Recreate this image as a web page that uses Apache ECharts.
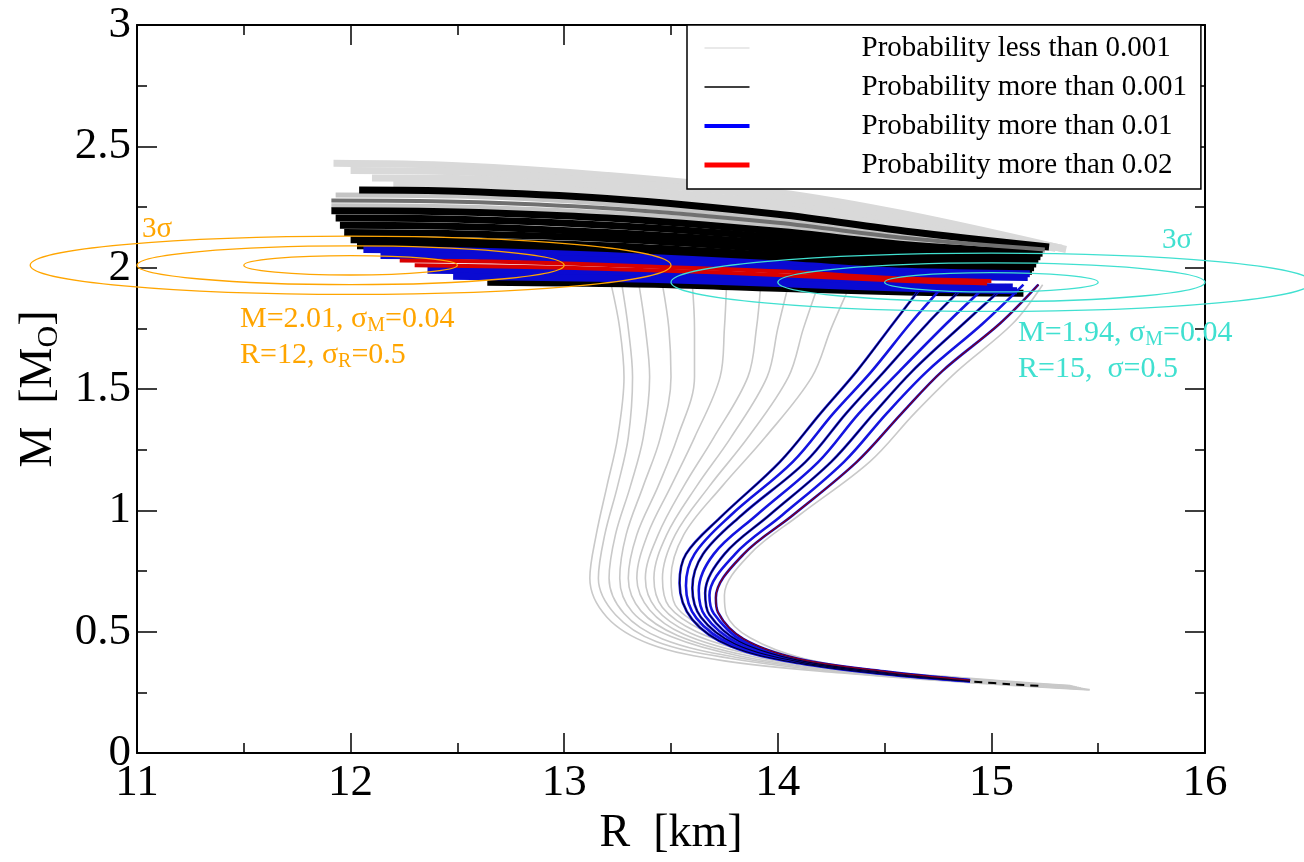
<!DOCTYPE html>
<html><head><meta charset="utf-8">
<script src="https://cdn.jsdelivr.net/npm/echarts@6/dist/echarts.min.js"></script>
<style>html,body{margin:0;padding:0;background:#fff}#c{width:1304px;height:862px}</style>
</head><body><div id="c"></div>
<script>
// ---------------- DATA ([R km, M Msun]) ----------------
const xRange = [11, 16];
const yRange = [0, 3];

// lower-branch curves, probability < 0.001 (light grey)
const grayLowerCurves = [
  [[15.46,0.26],[14.9,0.29],[14.3,0.33],[13.75,0.38],[13.4,0.45],[13.2,0.56],[13.12,0.72],[13.15,0.9],[13.2,1.1],[13.25,1.3],[13.28,1.55],[13.26,1.75],[13.22,1.93]],
  [[15.45,0.262],[14.9,0.292],[14.3,0.333],[13.78,0.39],[13.43,0.46],[13.24,0.57],[13.16,0.72],[13.19,0.9],[13.25,1.1],[13.3,1.3],[13.32,1.55],[13.3,1.75],[13.27,1.93]],
  [[15.44,0.264],[14.9,0.294],[14.3,0.336],[13.8,0.395],[13.46,0.47],[13.28,0.575],[13.21,0.72],[13.24,0.9],[13.31,1.1],[13.37,1.3],[13.4,1.55],[13.38,1.75],[13.35,1.93]],
  [[15.43,0.266],[14.9,0.296],[14.3,0.339],[13.82,0.4],[13.5,0.48],[13.32,0.58],[13.26,0.72],[13.29,0.9],[13.37,1.1],[13.45,1.3],[13.5,1.55],[13.49,1.75],[13.46,1.93]],
  [[15.42,0.268],[14.9,0.298],[14.3,0.342],[13.84,0.405],[13.53,0.485],[13.36,0.585],[13.3,0.72],[13.34,0.9],[13.44,1.1],[13.53,1.3],[13.61,1.55],[13.61,1.75],[13.6,1.93]],
  [[15.41,0.27],[14.9,0.3],[14.3,0.345],[13.86,0.41],[13.56,0.49],[13.4,0.59],[13.34,0.72],[13.39,0.9],[13.5,1.1],[13.61,1.3],[13.73,1.55],[13.75,1.75],[13.76,1.93]],
  [[15.4,0.272],[14.9,0.302],[14.3,0.348],[13.88,0.415],[13.59,0.495],[13.43,0.595],[13.38,0.72],[13.44,0.9],[13.56,1.1],[13.7,1.3],[13.86,1.55],[13.9,1.75],[13.92,1.93]],
  [[15.39,0.274],[14.9,0.304],[14.3,0.35],[13.9,0.42],[13.62,0.5],[13.46,0.6],[13.42,0.72],[13.48,0.9],[13.62,1.1],[13.78,1.3],[13.95,1.55],[14.0,1.75],[14.05,1.93]],
  [[15.38,0.276],[14.9,0.306],[14.3,0.353],[13.92,0.425],[13.65,0.505],[13.49,0.605],[13.46,0.72],[13.52,0.9],[13.68,1.1],[13.86,1.3],[14.05,1.55],[14.12,1.75],[14.19,1.93]],
  [[15.37,0.278],[14.9,0.308],[14.3,0.356],[13.94,0.43],[13.68,0.51],[13.52,0.61],[13.5,0.72],[13.56,0.9],[13.74,1.1],[13.94,1.3],[14.16,1.55],[14.25,1.75],[14.34,1.93]],
  [[15.46,0.262],[15.0,0.29],[14.5,0.335],[14.12,0.39],[13.87,0.475],[13.76,0.57],[13.75,0.65],[13.87,0.82],[14.1,0.98],[14.43,1.2],[14.64,1.4],[14.84,1.574],[15.1,1.77],[15.24,1.93]]
];

// upper (near-horizontal) band, light grey part
const grayBandLines = [
  [[11.92,2.43],[12.5,2.42],[13.2,2.38],[14.0,2.31],[14.6,2.22],[15.35,2.075]],
  [[12.0,2.40],[12.5,2.395],[13.2,2.355],[14.0,2.29],[14.6,2.2],[15.33,2.08]],
  [[12.1,2.37],[12.5,2.368],[13.2,2.33],[14.0,2.265],[14.6,2.18],[15.3,2.08]],
  [[12.2,2.345],[12.5,2.342],[13.2,2.31],[14.0,2.245],[14.6,2.165],[15.3,2.082]]
];
// striped grey/dark rows just under the top black line
const stripeLightLines = [
  [[11.93,2.30],[12.5,2.295],[13.2,2.265],[14.0,2.2],[14.6,2.135],[15.26,2.08]],
  [[11.91,2.255],[12.5,2.25],[13.2,2.225],[14.0,2.17],[14.6,2.11],[15.25,2.07]]
];
const stripeDarkLines = [
  [[11.91,2.277],[12.5,2.272],[13.2,2.245],[14.0,2.185],[14.6,2.122],[15.25,2.075]]
];
// probability > 0.001 (black) band lines
const blackBandLines = [
  [[12.04,2.32],[12.5,2.315],[13.2,2.285],[14.0,2.22],[14.6,2.15],[15.27,2.085]],
  [[11.91,2.235],[12.5,2.23],[13.2,2.205],[14.0,2.15],[14.6,2.095],[15.24,2.06]],
  [[11.93,2.205],[12.5,2.2],[13.2,2.175],[14.0,2.125],[14.6,2.075],[15.23,2.045]],
  [[11.95,2.175],[12.5,2.17],[13.2,2.145],[14.0,2.1],[14.6,2.055],[15.22,2.03]],
  [[11.97,2.145],[12.5,2.14],[13.2,2.12],[14.0,2.075],[14.6,2.035],[15.21,2.015]],
  [[12.0,2.115],[12.5,2.11],[13.2,2.09],[14.0,2.05],[14.6,2.015],[15.2,2.0]],
  [[12.03,2.09],[12.5,2.085],[13.2,2.065],[14.0,2.03],[14.6,1.995],[15.19,1.985]],
  [[12.64,1.94],[13.0,1.937],[13.5,1.93],[14.0,1.915],[14.6,1.9],[15.15,1.895]]
];
const blackTailDash = [[14.92,0.294],[15.07,0.285],[15.22,0.277]];

// probability > 0.01 (blue)
const blueLowerCurves = [
  [[14.9,0.295],[14.5,0.325],[14.1,0.37],[13.78,0.44],[13.6,0.55],[13.54,0.7],[13.57,0.82],[13.73,0.97],[14.01,1.2],[14.2,1.4],[14.37,1.574],[14.54,1.77],[14.68,1.93]],
  [[14.9,0.296],[14.5,0.327],[14.1,0.373],[13.79,0.445],[13.62,0.555],[13.57,0.69],[13.61,0.82],[13.78,0.98],[14.07,1.2],[14.26,1.4],[14.44,1.574],[14.62,1.77],[14.78,1.93]],
  [[14.9,0.297],[14.5,0.329],[14.1,0.376],[13.8,0.45],[13.64,0.56],[13.6,0.68],[13.65,0.82],[13.83,0.98],[14.13,1.2],[14.32,1.4],[14.5,1.574],[14.7,1.77],[14.88,1.93]],
  [[14.9,0.298],[14.5,0.331],[14.1,0.379],[13.81,0.455],[13.66,0.565],[13.63,0.67],[13.7,0.82],[13.9,0.98],[14.19,1.2],[14.38,1.4],[14.57,1.574],[14.79,1.77],[14.98,1.93]],
  [[14.9,0.299],[14.5,0.333],[14.1,0.382],[13.82,0.46],[13.68,0.57],[13.66,0.66],[13.75,0.82],[13.96,0.98],[14.25,1.2],[14.45,1.4],[14.63,1.574],[14.87,1.77],[15.07,1.93]],
  [[14.9,0.3],[14.5,0.335],[14.1,0.385],[13.83,0.465],[13.7,0.575],[13.68,0.65],[13.8,0.82],[14.02,0.98],[14.31,1.2],[14.51,1.4],[14.7,1.574],[14.96,1.77],[15.15,1.93]],
  [[14.9,0.301],[14.5,0.337],[14.1,0.388],[13.84,0.47],[13.72,0.58],[13.71,0.64],[13.84,0.82],[14.07,0.98],[14.37,1.2],[14.58,1.4],[14.77,1.574],[15.04,1.77],[15.22,1.93]]
];
const blueBandLines = [
  [[12.06,2.075],[12.5,2.07],[13.2,2.05],[14.0,2.015],[14.6,1.985],[15.18,1.975]],
  [[12.14,2.05],[12.5,2.048],[13.2,2.03],[14.0,2.0],[14.6,1.97],[15.17,1.96]],
  [[12.36,1.99],[12.8,1.985],[13.4,1.972],[14.0,1.955],[14.6,1.93],[15.1,1.92]],
  [[12.48,1.965],[12.9,1.96],[13.4,1.952],[14.0,1.935],[14.6,1.915],[15.12,1.905]]
];
// probability > 0.02 (red)
const redBandLines = [
  [[12.23,2.03],[12.7,2.025],[13.4,2.005],[14.0,1.985],[14.6,1.955],[15.0,1.945]],
  [[12.3,2.01],[12.7,2.005],[13.4,1.99],[14.0,1.97],[14.6,1.945],[14.98,1.935]]
];

// observational constraints (centre R, centre M, sigma R, sigma M) and contour levels
const orangeCenter = [12, 2.01], orangeSigma = [0.5, 0.04];
const cyanCenter = [15, 1.94], cyanSigma = [0.5, 0.04];
const sigmaLevels = [1, 2, 3];

const legendNames = ['Probability less than 0.001','Probability more than 0.001','Probability more than 0.01','Probability more than 0.02'];

// ---------------- CHART ----------------
const serif = '"Liberation Serif","Times New Roman",serif';
const orange = '#FFA500', cyan = '#40E0D0';
const series = [];
function addLines(curves, name, color, width, extra) {
  curves.forEach(c => series.push(Object.assign({
    type: 'line', name: name, data: c, symbol: 'none', showSymbol: false, smooth: 0.35,
    lineStyle: { color: color, width: width, cap: 'butt', join: 'round' },
    itemStyle: { color: color }, silent: true, animation: false, z: 2
  }, extra || {})));
}
addLines(grayLowerCurves, legendNames[0], '#c9c9c9', 1.6);
addLines(grayBandLines, legendNames[0], '#d9d9d9', 7);
addLines(stripeLightLines, legendNames[0], '#c4c4c4', 5);
addLines(blackBandLines, legendNames[1], '#000000', 7);
addLines(stripeDarkLines, legendNames[1], '#707070', 4);
addLines([blackTailDash], legendNames[1], '#000000', 2, { lineStyle: { color: '#000', width: 2, type: [8, 6] } });
addLines(blueLowerCurves, legendNames[2], '#1414e0', 2.6);
addLines(blueLowerCurves.filter((c, i) => i % 2 === 0), legendNames[1], '#000030', 1.1);
addLines(blueBandLines, legendNames[2], '#0a0ad2', 7);
addLines(redBandLines, legendNames[3], '#d80000', 4);
addLines(blueLowerCurves.slice(-1), legendNames[3], '#8a0022', 1.2);

function ellipseSeries(center, sigma, color) {
  return {
    type: 'custom', name: 'constraint', clip: false, silent: true, animation: false, z: 6,
    encode: { x: 0, y: 1 },
    data: sigmaLevels.map(k => [center[0], center[1], sigma[0] * k, sigma[1] * k]),
    renderItem: function (params, api) {
      const c = api.coord([api.value(0), api.value(1)]);
      const s = api.size([api.value(2), api.value(3)], [api.value(0), api.value(1)]);
      return { type: 'ellipse', shape: { cx: c[0], cy: c[1], rx: s[0], ry: s[1] },
        style: { fill: 'none', stroke: color, lineWidth: 1.3 } };
    }
  };
}
series.push(ellipseSeries(orangeCenter, orangeSigma, orange));
series.push(ellipseSeries(cyanCenter, cyanSigma, cyan));

const axisCommon = {
  axisLine: { show: true, onZero: false, lineStyle: { color: '#000', width: 2 } },
  axisTick: { show: true, inside: true, length: 20, lineStyle: { color: '#000', width: 1.5 } },
  minorTick: { show: true, splitNumber: 2, length: 10, lineStyle: { color: '#000', width: 1.5 } },
  splitLine: { show: false }
};
const labelStyle = { fontSize: 45, fontFamily: serif, color: '#000' };

function richFor(color) {
  return {
    a: { fill: color, fontSize: 30, fontFamily: serif, lineHeight: 34 },
    s: { fill: color, fontSize: 20, fontFamily: serif, padding: [14, 0, 0, 0] }
  };
}
const hiddenSymbol = { opacity: 0, color: 'rgba(0,0,0,0)', borderWidth: 0 };

const option = {
  backgroundColor: '#fff',
  animation: false,
  grid: { left: 137, right: 99, top: 25, bottom: 90, containLabel: false },
  xAxis: [
    Object.assign({ type: 'value', min: xRange[0], max: xRange[1], interval: 1, position: 'bottom',
      name: 'R  [km]', nameLocation: 'middle', nameGap: 36,
      nameTextStyle: { fontSize: 46, fontFamily: serif, color: '#000' },
      axisLabel: Object.assign({ margin: 8 }, labelStyle) }, axisCommon),
    Object.assign({ type: 'value', min: xRange[0], max: xRange[1], interval: 1, position: 'top',
      axisLabel: { show: false } }, axisCommon)
  ],
  yAxis: [
    Object.assign({ type: 'value', min: yRange[0], max: yRange[1], interval: 0.5, position: 'left',
      name: '{a|M  [M}{s|O}{a|]}', nameLocation: 'middle', nameGap: 70, nameRotate: 90,
      nameTextStyle: { color: '#000', rich: {
        a: { fontSize: 46, fontFamily: serif, color: '#000', lineHeight: 50 },
        s: { fontSize: 30, fontFamily: serif, color: '#000', padding: [20, 0, 0, 0] } } },
      axisLabel: Object.assign({ margin: 6 }, labelStyle) }, axisCommon),
    Object.assign({ type: 'value', min: yRange[0], max: yRange[1], interval: 0.5, position: 'right',
      axisLabel: { show: false } }, axisCommon)
  ],
  legend: {
    orient: 'vertical', left: 687, top: 25, z: 10,
    backgroundColor: '#fff', borderColor: '#000', borderWidth: 1.5, borderRadius: 0,
    padding: [8, 14, 9, 15], itemWidth: 45, itemHeight: 14, itemGap: 9,
    selectedMode: false,
    textStyle: { fontSize: 29, fontFamily: serif, color: '#000', lineHeight: 30, padding: [0, 0, 0, 107] },
    data: [
      { name: legendNames[0], itemStyle: hiddenSymbol, lineStyle: { color: '#d4d4d4', width: 1.2 } },
      { name: legendNames[1], itemStyle: hiddenSymbol, lineStyle: { color: '#000', width: 1.5 } },
      { name: legendNames[2], itemStyle: hiddenSymbol, lineStyle: { color: '#0000ff', width: 4 } },
      { name: legendNames[3], itemStyle: hiddenSymbol, lineStyle: { color: '#ff0000', width: 5 } }
    ]
  },
  graphic: [
    { type: 'text', left: 142, top: 215, z: 20, silent: true, style: { text: '3σ', fill: orange, fontSize: 29, fontFamily: serif } },
    { type: 'text', left: 240, top: 304, z: 20, silent: true, style: { text: '{a|M=2.01, σ}{s|M}{a|=0.04}', rich: richFor(orange) } },
    { type: 'text', left: 240, top: 340, z: 20, silent: true, style: { text: '{a|R=12, σ}{s|R}{a|=0.5}', rich: richFor(orange) } },
    { type: 'text', left: 1162, top: 226, z: 20, silent: true, style: { text: '3σ', fill: cyan, fontSize: 29, fontFamily: serif } },
    { type: 'text', left: 1018, top: 318, z: 20, silent: true, style: { text: '{a|M=1.94, σ}{s|M}{a|=0.04}', rich: richFor(cyan) } },
    { type: 'text', left: 1018, top: 354, z: 20, silent: true, style: { text: '{a|R=15,  σ=0.5}', rich: richFor(cyan) } }
  ],
  series: series
};
const chart = echarts.init(document.getElementById('c'), null, { renderer: 'canvas' });
chart.setOption(option);
</script>
</body></html>
